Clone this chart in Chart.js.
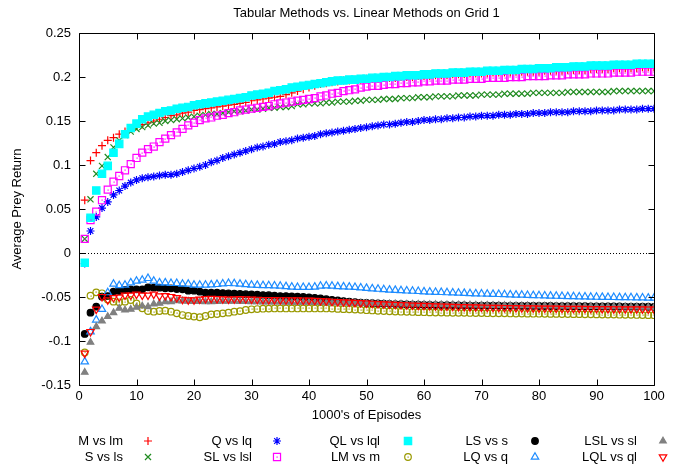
<!DOCTYPE html>
<html>
<head>
<meta charset="utf-8">
<script src="https://cdn.jsdelivr.net/npm/chart.js@4/dist/chart.umd.min.js"></script>
<style>
  body { margin: 0; background: #fff; }
  #wrap { width: 681px; height: 466px; }
</style>
</head>
<body>
<div id="wrap"><canvas id="chart" width="681" height="466"></canvas></div>
<script>
const chartTitle = "Tabular Methods vs. Linear Methods on Grid 1";
const xTitle = "1000's of Episodes";
const yTitle = "Average Prey Return";

const episodes = [
  1, 2, 3, 4, 5, 6, 7, 8, 9, 10, 11, 12, 13, 14, 15, 16, 17, 18, 19, 20,
  21, 22, 23, 24, 25, 26, 27, 28, 29, 30, 31, 32, 33, 34, 35, 36, 37, 38, 39, 40,
  41, 42, 43, 44, 45, 46, 47, 48, 49, 50, 51, 52, 53, 54, 55, 56, 57, 58, 59, 60,
  61, 62, 63, 64, 65, 66, 67, 68, 69, 70, 71, 72, 73, 74, 75, 76, 77, 78, 79, 80,
  81, 82, 83, 84, 85, 86, 87, 88, 89, 90, 91, 92, 93, 94, 95, 96, 97, 98, 99, 100
];

const mVsLm = [
  .060, .105, .114, .122, .128, .131, .135, .138, .141, .144,
  .146, .148, .150, .152, .154, .156, .157, .159, .160, .162,
  .163, .164, .165, .166, .167, .168, .169, .170, .171, .173,
  .174, .175, .176, .177, .178, .180, .182, .184, .186, .188,
  .190, .192, .193, .194, .195, .196, .196, .197, .197, .198,
  .198, .198, .199, .199, .199, .200, .200, .200, .201, .201,
  .201, .202, .202, .202, .203, .203, .203, .204, .204, .204,
  .204, .205, .205, .205, .205, .206, .206, .206, .206, .206,
  .207, .207, .207, .207, .208, .208, .208, .208, .209, .209,
  .209, .209, .210, .210, .210, .210, .210, .211, .211, .211
];
const sVsLs = [
  .016, .061, .090, .099, .109, .120, .128, .134, .138, .141,
  .143, .145, .147, .148, .150, .151, .152, .153, .154, .155,
  .156, .157, .158, .158, .159, .160, .161, .161, .162, .163,
  .163, .164, .165, .165, .166, .166, .167, .169, .169, .170,
  .170, .170, .171, .171, .172, .172, .172, .173, .173, .174,
  .174, .174, .175, .175, .175, .176, .176, .176, .177, .177,
  .177, .178, .178, .178, .178, .179, .179, .179, .179, .180,
  .180, .180, .180, .181, .181, .181, .181, .181, .182, .182,
  .182, .182, .182, .182, .183, .183, .183, .183, .183, .183,
  .183, .183, .184, .184, .184, .184, .184, .184, .184, .184
];
const qVsLq = [
  -.012, .025, .041, .051, .058, .066, .071, .076, .080, .083,
  .085, .086, .087, .088, .089, .089, .090, .092, .094, .096,
  .098, .100, .103, .105, .108, .110, .112, .114, .116, .118,
  .120, .121, .123, .124, .126, .127, .128, .130, .131, .132,
  .133, .135, .136, .137, .138, .139, .140, .141, .142, .143,
  .144, .145, .146, .146, .147, .148, .149, .149, .150, .151,
  .151, .152, .152, .153, .153, .154, .154, .155, .155, .156,
  .156, .156, .157, .157, .157, .158, .158, .158, .159, .159,
  .159, .160, .160, .160, .160, .161, .161, .161, .161, .162,
  .162, .162, .162, .163, .163, .163, .163, .164, .164, .164
];
const slVsLsl = [
  .016, .0375, .047, .060, .072, .081, .0875, .094, .101, .108,
  .114, .118, .121, .126, .130, .134, .137, .141, .145, .148,
  .151, .153, .154, .156, .157, .159, .160, .162, .163, .164,
  .165, .166, .167, .169, .170, .171, .172, .173, .174, .175,
  .176, .178, .179, .181, .182, .184, .185, .186, .188, .189,
  .190, .190, .191, .192, .192, .193, .193, .194, .194, .195,
  .195, .196, .196, .196, .197, .197, .197, .198, .198, .198,
  .199, .199, .199, .199, .200, .200, .200, .201, .201, .201,
  .201, .202, .202, .202, .203, .203, .203, .203, .204, .204,
  .204, .204, .205, .205, .205, .205, .206, .206, .206, .206
];
const qlVsLql = [
  -.011, .040, .071, .090, .099, .114, .124, .135, .142, .147,
  .152, .155, .157, .159, .161, .162, .164, .165, .166, .168,
  .169, .170, .171, .172, .173, .174, .175, .176, .177, .179,
  .180, .181, .182, .184, .185, .186, .188, .189, .190, .191,
  .192, .193, .194, .195, .196, .196, .197, .197, .198, .198,
  .199, .199, .200, .200, .201, .201, .202, .202, .202, .203,
  .203, .204, .204, .204, .205, .205, .205, .206, .206, .206,
  .207, .207, .207, .208, .208, .208, .209, .209, .209, .210,
  .210, .210, .211, .211, .211, .212, .212, .212, .213, .213,
  .213, .213, .214, .214, .214, .214, .215, .215, .215, .215
];
const lmVsM = [
  -.113, -.0485, -.0447, -.0458, -.0527, -.0553, -.056, -.0553, -.0534, -.0572,
  -.0629, -.0659, -.0667, -.0659, -.0655, -.0667, -.0686, -.0705, -.0716, -.0723,
  -.073, -.0716, -.0697, -.0693, -.0686, -.0678, -.0667, -.066, -.0648, -.064,
  -.0637, -.0633, -.0632, -.063, -.063, -.063, -.063, -.063, -.063, -.063,
  -.063, -.063, -.063, -.0632, -.0635, -.0638, -.064, -.0643, -.0646, -.065,
  -.0653, -.0656, -.066, -.0663, -.0665, -.0667, -.0668, -.067, -.0672, -.0673,
  -.0675, -.0676, -.0677, -.0678, -.0679, -.068, -.068, -.0681, -.0682, -.0683,
  -.0684, -.0685, -.0685, -.0686, -.0687, -.0688, -.0688, -.0689, -.069, -.069,
  -.0691, -.0692, -.0692, -.0693, -.0694, -.0695, -.0695, -.0696, -.0697, -.0698,
  -.0699, -.07, -.07, -.0701, -.0702, -.0703, -.0704, -.0705, -.0706, -.0707
];
const lsVsS = [
  -.092, -.0678, -.061, -.0496, -.0489, -.044, -.0432, -.042, -.0413, -.0413,
  -.0413, -.039, -.0394, -.0394, -.0401, -.0401, -.0409, -.0413, -.0428, -.0428,
  -.044, -.0451, -.0451, -.0451, -.0455, -.0458, -.0462, -.0466, -.0468, -.047,
  -.0474, -.0478, -.048, -.0485, -.0489, -.049, -.0493, -.0496, -.05, -.0504,
  -.051, -.0517, -.0525, -.0532, -.054, -.0547, -.0553, -.0558, -.0563, -.0567,
  -.057, -.0573, -.0576, -.0578, -.058, -.0582, -.0584, -.0586, -.0588, -.059,
  -.0591, -.0592, -.0593, -.0594, -.0595, -.0595, -.0596, -.0597, -.0597, -.0598,
  -.0598, -.0599, -.0599, -.06, -.06, -.06, -.0601, -.0601, -.0601, -.0602,
  -.0602, -.0602, -.0603, -.0603, -.0604, -.0604, -.0605, -.0605, -.0606, -.0606,
  -.0607, -.0607, -.0608, -.0608, -.0609, -.0609, -.061, -.061, -.0611, -.0612
];
const lqVsQ = [
  -.1235, -.0894, -.076, -.064, -.045, -.0352, -.037, -.0364, -.0337, -.0318,
  -.0307, -.0288, -.0318, -.0337, -.0337, -.0345, -.0345, -.0352, -.0352, -.0364,
  -.0364, -.0364, -.036, -.0356, -.035, -.0345, -.0348, -.0352, -.0358, -.0364,
  -.0366, -.0368, -.037, -.0372, -.0375, -.038, -.0385, -.039, -.039, -.039,
  -.0385, -.0375, -.0372, -.0375, -.038, -.0383, -.0386, -.039, -.0395, -.04,
  -.0405, -.041, -.0415, -.042, -.0423, -.0426, -.043, -.0433, -.0436, -.044,
  -.0442, -.0445, -.0447, -.045, -.0452, -.0455, -.0457, -.046, -.0462, -.0464,
  -.0466, -.0468, -.047, -.0472, -.0474, -.0476, -.0478, -.048, -.0482, -.0484,
  -.0486, -.0488, -.049, -.0492, -.0494, -.0495, -.0497, -.0498, -.05, -.0501,
  -.0502, -.0503, -.0504, -.0505, -.0506, -.0507, -.0508, -.0509, -.051, -.0512
];
const lslVsSl = [
  -.1356, -.1015, -.0837, -.0773, -.0723, -.0678, -.0629, -.0648, -.064, -.0617,
  -.0602, -.061, -.058, -.0572, -.0553, -.0553, -.0542, -.0545, -.0548, -.055,
  -.0552, -.0555, -.0553, -.055, -.0548, -.0547, -.0548, -.055, -.0552, -.0553,
  -.0555, -.0556, -.0557, -.0558, -.0558, -.0559, -.056, -.056, -.056, -.0561,
  -.0562, -.0563, -.0564, -.0565, -.0566, -.0567, -.0568, -.057, -.0571, -.0572,
  -.0574, -.0575, -.0576, -.0577, -.0578, -.058, -.0581, -.0582, -.0583, -.0584,
  -.0585, -.0586, -.0587, -.0588, -.0589, -.059, -.0591, -.0592, -.0593, -.0594,
  -.0595, -.0596, -.0597, -.0597, -.0598, -.0599, -.06, -.06, -.0601, -.0602,
  -.0603, -.0603, -.0604, -.0605, -.0606, -.0606, -.0607, -.0608, -.0609, -.0609,
  -.061, -.0611, -.0612, -.0612, -.0613, -.0614, -.0615, -.0616, -.0617, -.0618
];
const lqlVsQl = [
  -.114, -.0894, -.064, -.0496, -.0534, -.0508, -.0504, -.048, -.048, -.047,
  -.048, -.048, -.047, -.049, -.0485, -.0496, -.0508, -.0527, -.0534, -.0534,
  -.0525, -.052, -.0518, -.052, -.0522, -.0525, -.0523, -.052, -.0522, -.0525,
  -.0527, -.053, -.053, -.0532, -.0533, -.0533, -.0534, -.0535, -.0536, -.0538,
  -.054, -.0543, -.0546, -.055, -.0553, -.0556, -.056, -.0563, -.0566, -.057,
  -.0573, -.0576, -.0579, -.0582, -.0585, -.0588, -.059, -.0593, -.0596, -.0598,
  -.06, -.0602, -.0604, -.0606, -.0608, -.061, -.0612, -.0614, -.0615, -.0617,
  -.0618, -.0619, -.062, -.0621, -.0622, -.0623, -.0624, -.0625, -.0626, -.0627,
  -.0628, -.0628, -.0629, -.063, -.063, -.0631, -.0632, -.0632, -.0633, -.0633,
  -.0634, -.0634, -.0635, -.0635, -.0636, -.0636, -.0637, -.0637, -.0638, -.0638
];

const FONT = "'Liberation Sans', Arial, Helvetica, sans-serif";
const NONE = 'rgba(0,0,0,0)';

function series(label, values, color, style, opts) {
    let open = opts.open;
    return {
        label: label,
        data: episodes.map((e, i) => ({x: e, y: values[i]})),
        showLine: false,
        pointStyle: style,
        pointRadius: opts.r,
        pointHoverRadius: opts.r,
        pointRotation: opts.rot || 0,
        pointBorderWidth: 1.2,
        borderColor: color,
        backgroundColor: open ? NONE : color,
        centerDot: opts.dot || false
    };
}

// gnuplot plots in this order, later ones on top
let datasets = [
    series('M vs lm', mVsLm, '#ff0000', 'cross', {r: 4}),
    series('S vs ls', sVsLs, '#208b20', 'crossRot', {r: 4.3}),
    series('Q vs lq', qVsLq, '#0000ff', 'star', {r: 4}),
    series('SL vs lsl', slVsLsl, '#ff00ff', 'rect', {r: 5}),
    series('QL vs lql', qlVsLql, '#00ffff', 'rect', {r: 5.2}),
    series('LM vs m', lmVsM, '#999900', 'circle', {r: 3.3, open: true, dot: true}),
    series('LS vs s', lsVsS, '#000000', 'circle', {r: 3.3}),
    series('LQ vs q', lqVsQ, '#1e8cff', 'triangle', {r: 4.3, open: true}),
    series('LSL vs sl', lslVsSl, '#808080', 'triangle', {r: 3.8}),
    series('LQL vs ql', lqlVsQl, '#ff0000', 'triangle', {r: 4.3, open: true, rot: 180})
];
datasets[3].backgroundColor = NONE;
datasets[3].centerDot = true;
datasets.forEach((d, i) => d.order = datasets.length - i);

const gnuplotFrame = {
    id: 'gnuplotFrame',
    beforeDatasetsDraw(chart) {
        const {ctx, chartArea: a, scales: {y}} = chart;
        let y0 = Math.round(y.getPixelForValue(0)) + 0.5;
        ctx.save();
        ctx.strokeStyle = '#000';
        ctx.lineWidth = 1;
        ctx.setLineDash([1, 2]);
        ctx.beginPath();
        ctx.moveTo(a.left, y0);
        ctx.lineTo(a.right, y0);
        ctx.stroke();
        ctx.restore();
    },
    afterDatasetsDraw(chart) {
        const ctx = chart.ctx;
        chart.data.datasets.forEach((ds, i) => {
            if (!ds.centerDot) return;
            ctx.save();
            ctx.fillStyle = ds.borderColor;
            chart.getDatasetMeta(i).data.forEach(p => {
                ctx.fillRect(Math.round(p.x) - 0.5, Math.round(p.y) - 0.5, 1.2, 1.2);
            });
            ctx.restore();
        });
    },
    afterDraw(chart) {
        const {ctx, chartArea: a, scales: {x, y}} = chart;
        const L = Math.round(a.left) + 0.5, R = Math.round(a.right) + 0.5;
        const T = Math.round(a.top) + 0.5, B = Math.round(a.bottom) + 0.5;
        const tick = 6;
        ctx.save();
        ctx.strokeStyle = '#000';
        ctx.lineWidth = 1;
        ctx.beginPath();
        ctx.rect(L, T, R - L, B - T);
        x.ticks.forEach(t => {
            let px = Math.round(x.getPixelForValue(t.value)) + 0.5;
            ctx.moveTo(px, B); ctx.lineTo(px, B - tick);
            ctx.moveTo(px, T); ctx.lineTo(px, T + tick);
        });
        y.ticks.forEach(t => {
            let py = Math.round(y.getPixelForValue(t.value)) + 0.5;
            ctx.moveTo(L, py); ctx.lineTo(L + tick, py);
            ctx.moveTo(R, py); ctx.lineTo(R - tick, py);
        });
        ctx.stroke();

        // title centred on the plot area
        ctx.fillStyle = '#000';
        ctx.font = '13px ' + FONT;
        ctx.textAlign = 'center';
        ctx.textBaseline = 'middle';
        ctx.fillText(chartTitle, (a.left + a.right) / 2, 13);

        // legend: 5 columns x 2 rows, text right aligned then symbol
        const textRight = [123, 252, 380, 508, 637];
        const symX = [148, 277, 408, 535, 663];
        const rowY = [441, 457];
        ctx.textAlign = 'right';
        chart.data.datasets.forEach((ds, i) => {
            let col = Math.floor(i / 2), row = i % 2;
            ctx.fillStyle = '#000';
            ctx.fillText(ds.label, textRight[col], rowY[row]);
            ctx.save();
            ctx.strokeStyle = ds.borderColor;
            ctx.fillStyle = ds.backgroundColor;
            ctx.lineWidth = 1.2;
            Chart.helpers.drawPoint(ctx, {
                pointStyle: ds.pointStyle,
                rotation: ds.pointRotation,
                radius: ds.pointRadius,
                borderWidth: 1.2
            }, symX[col], rowY[row]);
            if (ds.centerDot) {
                ctx.fillStyle = ds.borderColor;
                ctx.fillRect(symX[col] - 0.5, rowY[row] - 0.5, 1.2, 1.2);
            }
            ctx.restore();
        });
        ctx.restore();
    }
};

Chart.defaults.color = '#000';
Chart.defaults.font.family = FONT;
Chart.defaults.font.size = 13;

new Chart(document.getElementById('chart'), {
    type: 'scatter',
    data: {datasets: datasets},
    options: {
        responsive: false,
        animation: false,
        events: [],
        layout: {padding: {top: 33, right: 27, bottom: 41, left: 0}},
        plugins: {
            legend: {display: false},
            title: {display: false},
            tooltip: {enabled: false}
        },
        scales: {
            x: {
                type: 'linear',
                min: 0,
                max: 100,
                ticks: {stepSize: 10, padding: 4, maxRotation: 0},
                grid: {display: false, drawTicks: false},
                border: {display: false},
                title: {display: true, text: xTitle, padding: {top: 0, bottom: 2}},
                afterFit(scale) { scale.height = 40; }
            },
            y: {
                min: -0.15,
                max: 0.25,
                ticks: {
                    stepSize: 0.05,
                    padding: 8,
                    callback: v => String(Number(v.toFixed(2)))
                },
                grid: {display: false, drawTicks: false},
                border: {display: false},
                title: {display: true, text: yTitle, padding: {top: 10, bottom: 0}},
                afterFit(scale) { scale.width = 79; }
            }
        }
    },
    plugins: [gnuplotFrame]
});
</script>
</body>
</html>
